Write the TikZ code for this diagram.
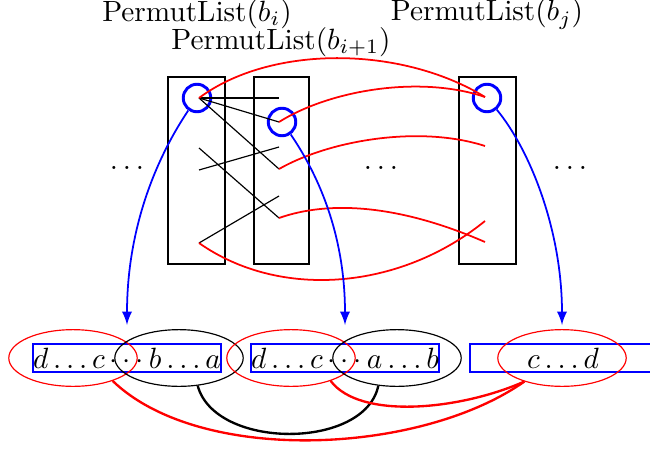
\documentclass[tikz,border=0pt]{standalone}
\usetikzlibrary{shapes.geometric}
\begin{document}
\begin{tikzpicture}[x=0.012cm,y=-0.012cm,
  col/.style={draw,line width=1pt},
  elem/.style={circle,draw=blue,line width=1pt,minimum size=0.33cm,inner sep=0pt},
  seq/.style={draw=blue,semithick,minimum width=2.24cm,minimum height=0.33cm,inner sep=0pt},
  grp/.style={ellipse,draw,minimum width=1.54cm,minimum height=0.68cm,inner sep=0pt},
  link/.style={red,semithick},
  down/.style={blue,semithick,-latex}]
\useasboundingbox (0,0) rectangle (650,448);
\node (lbi) at (197,14) {PermutList$(b_i)$};
\node (lbk) at (281,42) {PermutList$(b_{i+1})$};
\node (lbj) at (487,14) {PermutList$(b_j)$};
\draw[col] (168,77) rectangle (225,264);
\draw[col] (254,77) rectangle (309,264);
\draw[col] (459,77) rectangle (516,264);
\node (dl) at (127,168) {$\dots$};
\node (dm) at (381,168) {$\dots$};
\node (dr) at (570,168) {$\dots$};
% points of the lists
\coordinate (a1) at (199,98);
\coordinate (a2) at (199,148);
\coordinate (a3) at (199,170);
\coordinate (a4) at (199,243);
\coordinate (b1) at (279,98);
\coordinate (b2) at (279,122);
\coordinate (b3) at (279,147);
\coordinate (b4) at (279,169);
\coordinate (b5) at (279,196);
\coordinate (b6) at (279,218);
\coordinate (j1) at (485,97);
\coordinate (j2) at (485,146);
\coordinate (j3) at (485,221);
\coordinate (j4) at (485,242);
\node[elem] (ci) at (197,98) {};
\node[elem] (ck) at (282,122) {};
\node[elem] (cj) at (487,98) {};
\draw (a1) -- (b1);
\draw (a1) -- (b2);
\draw (a1) -- (b4);
\draw (a2) -- (b6);
\draw (a3) -- (b3);
\draw (a4) -- (b5);
\draw[link] (a1) .. controls (270,45) and (400,45) .. (j1);
\draw[link] (b2) .. controls (330,90) and (420,75) .. (j1);
\draw[link] (b4) .. controls (330,140) and (420,125) .. (j2);
\draw[link] (b6) .. controls (330,200) and (400,205) .. (j4);
\draw[link] (a4) .. controls (280,300) and (400,290) .. (j3);
% merged sequences
\node[seq] (s1) at (127,358) {$d\ldots c\cdots b\ldots a$};
\node[seq] (s2) at (345,358) {$d\ldots c\cdots a\ldots b$};
\node[seq] (s3) at (563,358) {$c\ldots d$};
\node[grp,red] (e1) at (73,358) {};
\node[grp] (e2) at (179,358) {};
\node[grp,red] (e3) at (291,358) {};
\node[grp] (e4) at (397,358) {};
\node[grp,red] (e5) at (562,358) {};
\coordinate (t1) at (127,325);
\coordinate (t2) at (345,325);
\coordinate (t3) at (562,325);
\draw[down] (ci.235) .. controls (155,160) and (127,230) .. (t1);
\draw[down] (ck.-55) .. controls (315,170) and (345,230) .. (t2);
\draw[down] (cj.-50) .. controls (530,150) and (562,230) .. (t3);
\draw[thick] (e2.-56) .. controls (215,450) and (365,450) .. (e4.-124);
\draw[thick,red] (e1.-30) .. controls (200,465) and (420,455) .. (e5.-148);
\draw[thick,red] (e3.-30) .. controls (360,420) and (460,410) .. (e5.-148);
\end{tikzpicture}
\end{document}
